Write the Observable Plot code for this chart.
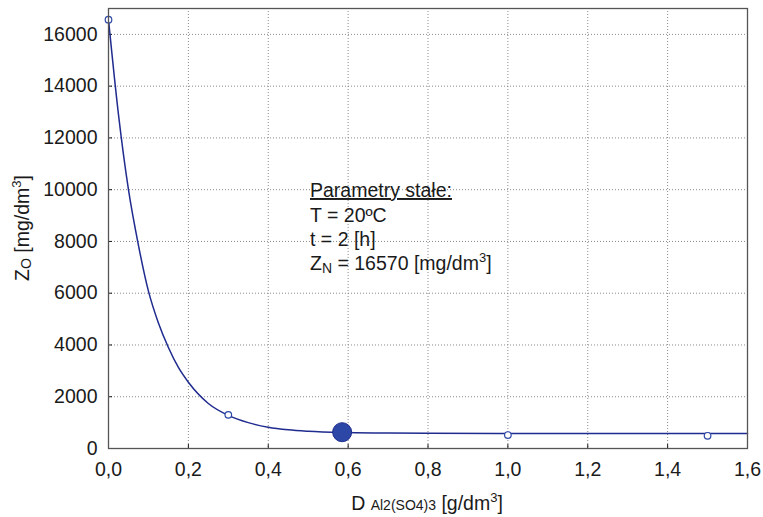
<!DOCTYPE html>
<html>
<head>
<meta charset="utf-8">
<script src="https://cdn.jsdelivr.net/npm/d3@7"></script>
<script src="https://cdn.jsdelivr.net/npm/@observablehq/plot@0.6"></script>
<style>
  html, body { margin: 0; padding: 0; background: #ffffff; }
  #chart { width: 763px; height: 517px; }
</style>
</head>
<body>
<div id="chart"></div>
<script>
// Fitted curve
const curveD = [0, 0.025, 0.05, 0.075, 0.1, 0.125, 0.15, 0.175, 0.2, 0.25, 0.3, 0.35, 0.4, 0.45, 0.5, 0.6, 0.7, 0.8, 1.0, 1.2, 1.4, 1.6];
const curveZ = [16570, 12900, 10000, 7850, 6080, 4850, 3900, 3130, 2560, 1740, 1280, 1000, 820, 720, 665, 615, 595, 588, 582, 580, 578, 576];
// Measured points
const pointD = [0, 0.3, 1.0, 1.5];
const pointZ = [16570, 1300, 520, 490];
// Optimum point
const optD = [0.585];
const optZ = [630];
// Ticks
const xTicks = [0, 0.2, 0.4, 0.6, 0.8, 1.0, 1.2, 1.4, 1.6];
const yTicks = [0, 2000, 4000, 6000, 8000, 10000, 12000, 14000, 16000];

const curve = curveD.map((d, i) => ({d, z: curveZ[i]}));
const points = pointD.map((d, i) => ({d, z: pointZ[i]}));
const opt = optD.map((d, i) => ({d, z: optZ[i]}));
const fmt = v => v.toFixed(1).replace(".", ",");

const lineColor = "#1f2b8e";
const dotColor = "#2d47a6";
const FS = 19.5;

const plot = Plot.plot({
  width: 763,
  height: 517,
  marginLeft: 108,
  marginRight: 16,
  marginTop: 8,
  marginBottom: 69,
  x: {domain: [0, 1.6]},
  y: {domain: [0, 17000]},
  style: {fontFamily: "'Liberation Sans', Arial, sans-serif", fontSize: FS + "px", background: "#ffffff", color: "#1a1a1a"},
  marks: [
    Plot.gridX(xTicks, {stroke: "#8a8a8a", strokeOpacity: 1, strokeDasharray: "1,2"}),
    Plot.gridY(yTicks, {stroke: "#8a8a8a", strokeOpacity: 1, strokeDasharray: "1,2"}),
    Plot.axisX({ticks: xTicks, tickFormat: fmt, tickSize: -4, tickPadding: 17.5, label: null, fontSize: FS}),
    Plot.axisY({ticks: yTicks, tickFormat: d => String(d), tickSize: -4, tickPadding: 15, label: null, fontSize: FS}),
    Plot.line(curve, {x: "d", y: "z", stroke: lineColor, strokeWidth: 1.5, curve: "monotone-x"}),
    Plot.dot(points, {x: "d", y: "z", r: 3.3, stroke: dotColor, fill: "#ffffff", strokeWidth: 1.2}),
    Plot.dot(opt, {x: "d", y: "z", r: 9.5, fill: dotColor, stroke: lineColor, strokeWidth: 1}),
    Plot.frame({stroke: "#555555", strokeWidth: 1.3})
  ]
});
document.getElementById("chart").appendChild(plot);

const svg = d3.select(plot);
const font = "'Liberation Sans', Arial, sans-serif";

// X axis label
const xl = svg.append("text")
  .attr("x", 427).attr("y", 510)
  .attr("text-anchor", "middle")
  .attr("font-family", font).attr("font-size", FS).attr("fill", "#1a1a1a");
xl.append("tspan").text("D ");
xl.append("tspan").attr("font-size", 14).text("Al2(SO4)3");
xl.append("tspan").text(" [g/dm");
xl.append("tspan").attr("font-size", 13).attr("dy", -8).text("3");
xl.append("tspan").attr("dy", 8).text("]");

// Y axis label
const yl = svg.append("text")
  .attr("transform", "translate(29,228) rotate(-90)")
  .attr("text-anchor", "middle")
  .attr("font-family", font).attr("font-size", FS).attr("fill", "#1a1a1a");
yl.append("tspan").text("Z");
yl.append("tspan").attr("font-size", 14).attr("dy", 2).text("O");
yl.append("tspan").attr("dy", -2).text(" [mg/dm");
yl.append("tspan").attr("font-size", 13).attr("dy", -8).text("3");
yl.append("tspan").attr("dy", 8).text("]");

// Annotation
const ann = svg.append("g")
  .attr("font-family", font).attr("font-size", FS).attr("fill", "#1a1a1a")
  .attr("text-anchor", "start");
ann.append("text").attr("x", 310).attr("y", 197)
  .attr("text-decoration", "underline").text("Parametry stałe:");
ann.append("text").attr("x", 310).attr("y", 222).text("T = 20ºC");
ann.append("text").attr("x", 310).attr("y", 246).text("t = 2 [h]");
const zn = ann.append("text").attr("x", 310).attr("y", 270);
zn.append("tspan").text("Z");
zn.append("tspan").attr("font-size", 14).attr("dy", 3).text("N");
zn.append("tspan").attr("dy", -3).text(" = 16570 [mg/dm");
zn.append("tspan").attr("font-size", 13).attr("dy", -8).text("3");
zn.append("tspan").attr("dy", 8).text("]");
</script>
</body>
</html>
